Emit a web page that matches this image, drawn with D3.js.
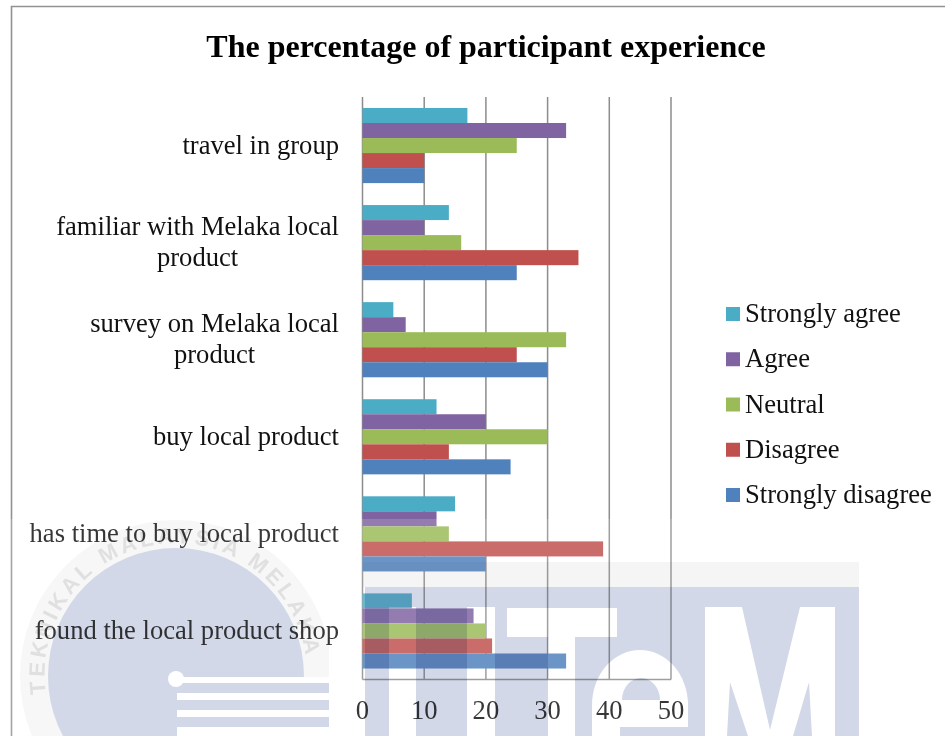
<!DOCTYPE html>
<html><head><meta charset="utf-8">
<script src="https://cdn.jsdelivr.net/npm/d3@7"></script>
<style>
html,body{margin:0;padding:0;background:#fff}
svg{display:block;filter:blur(0.35px)}
text{font-family:"Liberation Serif",serif;fill:#111}
</style></head><body>
<svg id="c" width="945" height="736"></svg>
<script>
const titleText = "The percentage of participant experience";
const categories = ["travel in group","familiar with Melaka local product","survey on Melaka local product","buy local product","has time to buy local product","found the local product shop"];
const categoryLines = [["travel in group"],["familiar with Melaka local","product"],["survey on Melaka local","product"],["buy local product"],["has time to buy local product"],["found the local product shop"]];
const seriesNames = ["Strongly agree","Agree","Neutral","Disagree","Strongly disagree"];
const seriesColors = ["#4bacc6","#8064a2","#9bbb59","#c0504d","#4f81bd"];
const stronglyAgree = [17,14,5,12,15,8];
const agree = [33,10,7,20,12,18];
const neutral = [25,16,33,30,14,20];
const disagree = [10,35,25,14,39,21];
const stronglyDisagree = [10,25,30,24,20,33];
const xTicks = [0,10,20,30,40,50];
const seriesValues = [stronglyAgree,agree,neutral,disagree,stronglyDisagree];

const svg = d3.select("#c");
const plot = {l:362.5,r:671,t:97,b:679.5};
const x = d3.scaleLinear().domain([0,50]).range([plot.l,plot.r]);
const yBand = d3.scaleBand().domain(categories).range([plot.t,plot.b]).paddingInner(0.226).paddingOuter(0.113);
const ySub = d3.scaleBand().domain(seriesNames).range([0,yBand.bandwidth()]);
const gridColor = "#8c8c8c";
const fs = 26.6;

// outer frame
svg.append("path").attr("d","M11.5,736V6.5H945").attr("fill","none").attr("stroke","#929292").attr("stroke-width",1.6);

// title
svg.append("text").attr("x",486).attr("y",57).attr("text-anchor","middle")
  .attr("font-weight","bold").attr("font-size",32).style("fill","#000").text(titleText);

// gridlines from the axis scale
svg.append("g").selectAll("line").data(xTicks).join("line")
  .attr("x1",d=>x(d)).attr("x2",d=>x(d)).attr("y1",plot.t).attr("y2",plot.b)
  .attr("stroke",gridColor).attr("stroke-width",1.5);
svg.append("line").attr("x1",plot.l).attr("x2",plot.r).attr("y1",plot.b).attr("y2",plot.b)
  .attr("stroke",gridColor).attr("stroke-width",1.5);

// bars
const groups = svg.append("g").selectAll("g").data(seriesNames).join("g").attr("fill",(d,i)=>seriesColors[i]);
groups.selectAll("rect").data((d,i)=>seriesValues[i].map((v,j)=>({s:d,c:categories[j],v}))).join("rect")
  .attr("x",x(0)).attr("y",d=>yBand(d.c)+ySub(d.s)).attr("width",d=>x(d.v)-x(0)).attr("height",ySub.bandwidth());

// tick labels
svg.append("g").selectAll("text").data(xTicks).join("text")
  .attr("x",d=>x(d)).attr("y",719).attr("text-anchor","middle").attr("font-size",fs).text(d=>d);

// category labels
const labelRight = 339;
const catG = svg.append("g").selectAll("g").data(categories).join("g");
catG.each(function(c,i){
  const g = d3.select(this), lines = categoryLines[i];
  const cy = yBand(c)+yBand.bandwidth()/2;
  const first = g.append("text").attr("font-size",fs).attr("text-anchor","end")
    .attr("x",labelRight).attr("y",cy+8-(lines.length-1)*15.5).text(lines[0]);
  if(lines.length>1){
    const w = first.node().getComputedTextLength();
    g.append("text").attr("font-size",fs).attr("text-anchor","middle")
      .attr("x",labelRight-w/2).attr("y",cy+8+15.5).text(lines[1]);
  }
});

// legend
const legY = d3.scalePoint().domain(seriesNames).range([314,495]);
const leg = svg.append("g").selectAll("g").data(seriesNames).join("g");
leg.append("rect").attr("x",726).attr("y",d=>legY(d)-7).attr("width",14).attr("height",14)
  .attr("fill",(d,i)=>seriesColors[i]);
leg.append("text").attr("x",745).attr("y",d=>legY(d)+8).attr("font-size",fs).text(d=>d);

// scanned watermark over the lower part of the page
const wm = svg.append("g");
const wash = "#d2d8e8";
wm.append("rect").attr("x",0).attr("y",519).attr("width",945).attr("height",217).attr("fill","#fff").attr("opacity",0.16);
const mult = wm.append("g").style("mix-blend-mode","multiply");
mult.append("defs").html('<clipPath id="logoClip"><rect x="0" y="500" width="329" height="240"/></clipPath><path id="ringArc" d="M46,694A131.2,131.2 0 1 1 306,690"/>');
const logo = mult.append("g").attr("clip-path","url(#logoClip)");
logo.append("circle").attr("cx",176).attr("cy",676).attr("r",156).attr("fill","#f7f7f7");
logo.append("text").style("fill","#e0e0e0").style("font-family","Liberation Sans").attr("font-weight","bold")
  .attr("font-size",22).attr("letter-spacing",3.6).append("textPath").attr("href","#ringArc")
  .text("TEKNIKAL MALAYSIA MELAKA");
logo.append("circle").attr("cx",176).attr("cy",676).attr("r",128).attr("fill",wash);
logo.append("rect").attr("x",177).attr("y",677).attr("width",152).attr("height",60).attr("fill","#fff");
[[683,693],[700,710],[717,727]].forEach(s=>logo.append("rect").attr("x",170).attr("y",s[0]).attr("width",159).attr("height",s[1]-s[0]).attr("fill",wash));
logo.append("circle").attr("cx",176).attr("cy",679).attr("r",8).attr("fill","#fff");
mult.append("rect").attr("x",363).attr("y",562).attr("width",496).attr("height",25).attr("fill","#f5f5f5");
const letters = [
 "M365,587H859V736H365Z",
 "M389,607H416V736H389Z",
 "M467,607H495V736H467Z",
 "M507,608H617V637H575V736H548V637H507Z",
 "M705,607H742L770,730L800,607H835V736H812L809,682L793,736H748L730,682L727,736H705Z"
].join("");
mult.append("path").attr("d",letters).attr("fill-rule","evenodd").attr("fill",wash);
// the e
mult.append("path").attr("fill-rule","evenodd").attr("fill","#fff")
  .attr("d","M592,736V705A48,55 0 0 1 688,705V727H620V736ZM622,700A19,22 0 0 1 660,700Z");
</script>
</body></html>
